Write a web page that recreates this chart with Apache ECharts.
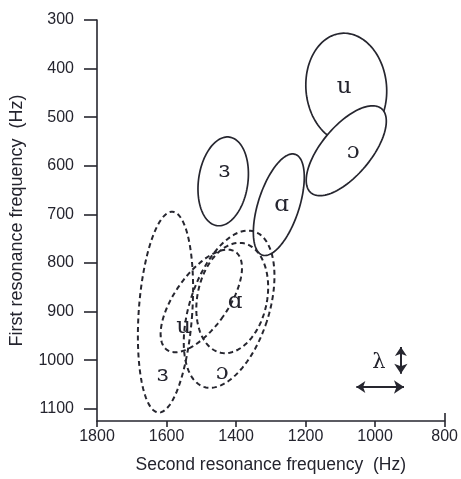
<!DOCTYPE html>
<html>
<head>
<meta charset="utf-8">
<script src="https://cdn.jsdelivr.net/npm/echarts@6/dist/echarts.min.js"></script>
<style>html,body{margin:0;padding:0;background:#fff}#c{width:461px;height:479px}</style>
</head>
<body>
<div id="c"></div>
<script>
// Solid ellipses (first set of vowels)
const solidVowels = ['u', 'ɔ', 'ɜ', 'ɑ'];
const solidF2 = [1083, 1083, 1437, 1277];
const solidF1 = [440, 569, 632, 680];
const solidSpreadF2 = [116, 71, 71, 59];
const solidSpreadF1 = [113, 113, 92, 109];
const solidTilt = [-5, 40, 8, 18];
const solidLabelF2 = [1089, 1063, 1434, 1269];
const solidLabelF1 = [437, 571, 610, 680];

// Dashed ellipses (second set of vowels)
const dashedVowels = ['ɜ', 'u', 'ɔ', 'ɑ'];
const dashedF2 = [1603, 1500, 1420, 1411];
const dashedF1 = [901, 878, 895, 872];
const dashedSpreadF2 = [77, 77, 114, 100];
const dashedSpreadF1 = [207, 123, 168, 115];
const dashedTilt = [4, 35, 18, 12];
const dashedLabelF2 = [1611, 1551, 1440, 1403];
const dashedLabelF1 = [1030, 932, 1026, 880];

// Axis ticks
const xTicks = [800, 1000, 1200, 1400, 1600, 1800];
const yTicks = [300, 400, 500, 600, 700, 800, 900, 1000, 1100];

// Lambda annotation
const lambdaLabel = ['λ'];
const lambdaF2 = [989];
const lambdaF1 = [1004];
const arrowH = [[1054, 1055], [917, 1055]];
const arrowV = [[926, 973], [926, 1028]];

const INK = '#26262f';
const TXT = '#24242e';
const IPA_FONT = '"DejaVu Serif", "Liberation Serif", serif';

function ellipseRender(dashed) {
  return function (params, api) {
    const f2 = api.value(0), f1 = api.value(1);
    const c = api.coord([f2, f1]);
    const s = api.size([api.value(2), api.value(3)], [f2, f1]);
    const t = api.value(4) * Math.PI / 180;
    const pts = [];
    const N = 120;
    for (let k = 0; k < N; k++) {
      const a = k / N * Math.PI * 2;
      const x = s[0] * Math.cos(a), y = s[1] * Math.sin(a);
      pts.push([c[0] + x * Math.cos(t) - y * Math.sin(t), c[1] + x * Math.sin(t) + y * Math.cos(t)]);
    }
    return {
      type: 'polygon',
      shape: { points: pts },
      style: dashed
        ? { fill: 'none', stroke: INK, lineWidth: 2, lineDash: [5, 3.5] }
        : { fill: '#ffffff', stroke: INK, lineWidth: 1.7 }
    };
  };
}

function textRender(labels, size) {
  return function (params, api) {
    const c = api.coord([api.value(0), api.value(1)]);
    return {
      type: 'text',
      x: c[0], y: c[1],
      style: {
        text: labels[params.dataIndex],
        fill: TXT,
        font: size + 'px ' + IPA_FONT,
        align: 'center',
        verticalAlign: 'middle'
      }
    };
  };
}

const plain = v => String(v);

const chart = echarts.init(document.getElementById('c'), null, { renderer: 'canvas' });
chart.setOption({
  animation: false,
  backgroundColor: '#ffffff',
  grid: { left: 96, right: 14, top: 20, bottom: 56 },
  xAxis: [{
    type: 'value', inverse: true, min: 800, max: 1800, interval: 200,
    position: 'bottom',
    name: 'Second resonance frequency  (Hz)',
    nameLocation: 'middle', nameGap: 35,
    nameTextStyle: { fontSize: 17.5, color: TXT, fontFamily: 'Liberation Sans' },
    axisLine: { lineStyle: { color: INK, width: 1.6 } },
    axisTick: { show: true, length: 6, lineStyle: { color: INK, width: 1.6 }, customValues: xTicks },
    axisLabel: { fontSize: 16, color: TXT, margin: 8, fontFamily: 'Liberation Sans', customValues: xTicks, formatter: plain },
    splitLine: { show: false }
  }, {
    type: 'value', inverse: true, min: 800, max: 1800, interval: 200,
    position: 'bottom',
    axisLine: { show: false },
    axisTick: { show: true, inside: true, length: 8, lineStyle: { color: INK, width: 1.6 }, customValues: [800] },
    axisLabel: { show: false },
    splitLine: { show: false }
  }],
  yAxis: {
    type: 'value', inverse: true, min: 300, max: 1125, interval: 100,
    name: 'First resonance frequency  (Hz)',
    nameLocation: 'middle', nameGap: 71, nameRotate: 90,
    nameTextStyle: { fontSize: 18, color: TXT, fontFamily: 'Liberation Sans' },
    axisLine: { show: true, lineStyle: { color: INK, width: 1.6 } },
    axisTick: { show: true, length: 13, lineStyle: { color: INK, width: 1.6 }, customValues: yTicks },
    axisLabel: { fontSize: 16, color: TXT, margin: 23, fontFamily: 'Liberation Sans', customValues: yTicks, formatter: plain },
    splitLine: { show: false }
  },
  series: [
    {
      type: 'custom', coordinateSystem: 'cartesian2d', clip: false, z: 2,
      renderItem: ellipseRender(false),
      data: solidVowels.map((v, i) => [solidF2[i], solidF1[i], solidSpreadF2[i], solidSpreadF1[i], solidTilt[i]])
    },
    {
      type: 'custom', coordinateSystem: 'cartesian2d', clip: false, z: 3,
      renderItem: ellipseRender(true),
      data: dashedVowels.map((v, i) => [dashedF2[i], dashedF1[i], dashedSpreadF2[i], dashedSpreadF1[i], dashedTilt[i]])
    },
    {
      type: 'custom', coordinateSystem: 'cartesian2d', clip: false, z: 4,
      renderItem: textRender(solidVowels, 23),
      data: solidVowels.map((v, i) => [solidLabelF2[i], solidLabelF1[i]])
    },
    {
      type: 'custom', coordinateSystem: 'cartesian2d', clip: false, z: 4,
      renderItem: textRender(dashedVowels, 23),
      data: dashedVowels.map((v, i) => [dashedLabelF2[i], dashedLabelF1[i]])
    },
    {
      type: 'custom', coordinateSystem: 'cartesian2d', clip: false, z: 4,
      renderItem: textRender(lambdaLabel, 21),
      data: lambdaLabel.map((v, i) => [lambdaF2[i], lambdaF1[i]])
    },
    {
      type: 'lines', coordinateSystem: 'cartesian2d', z: 5,
      symbol: ['arrow', 'arrow'], symbolSize: [9, 10],
      lineStyle: { color: INK, width: 2, opacity: 1 },
      itemStyle: { color: INK },
      data: [{ coords: arrowH }, { coords: arrowV }]
    }
  ]
});
</script>
</body>
</html>
